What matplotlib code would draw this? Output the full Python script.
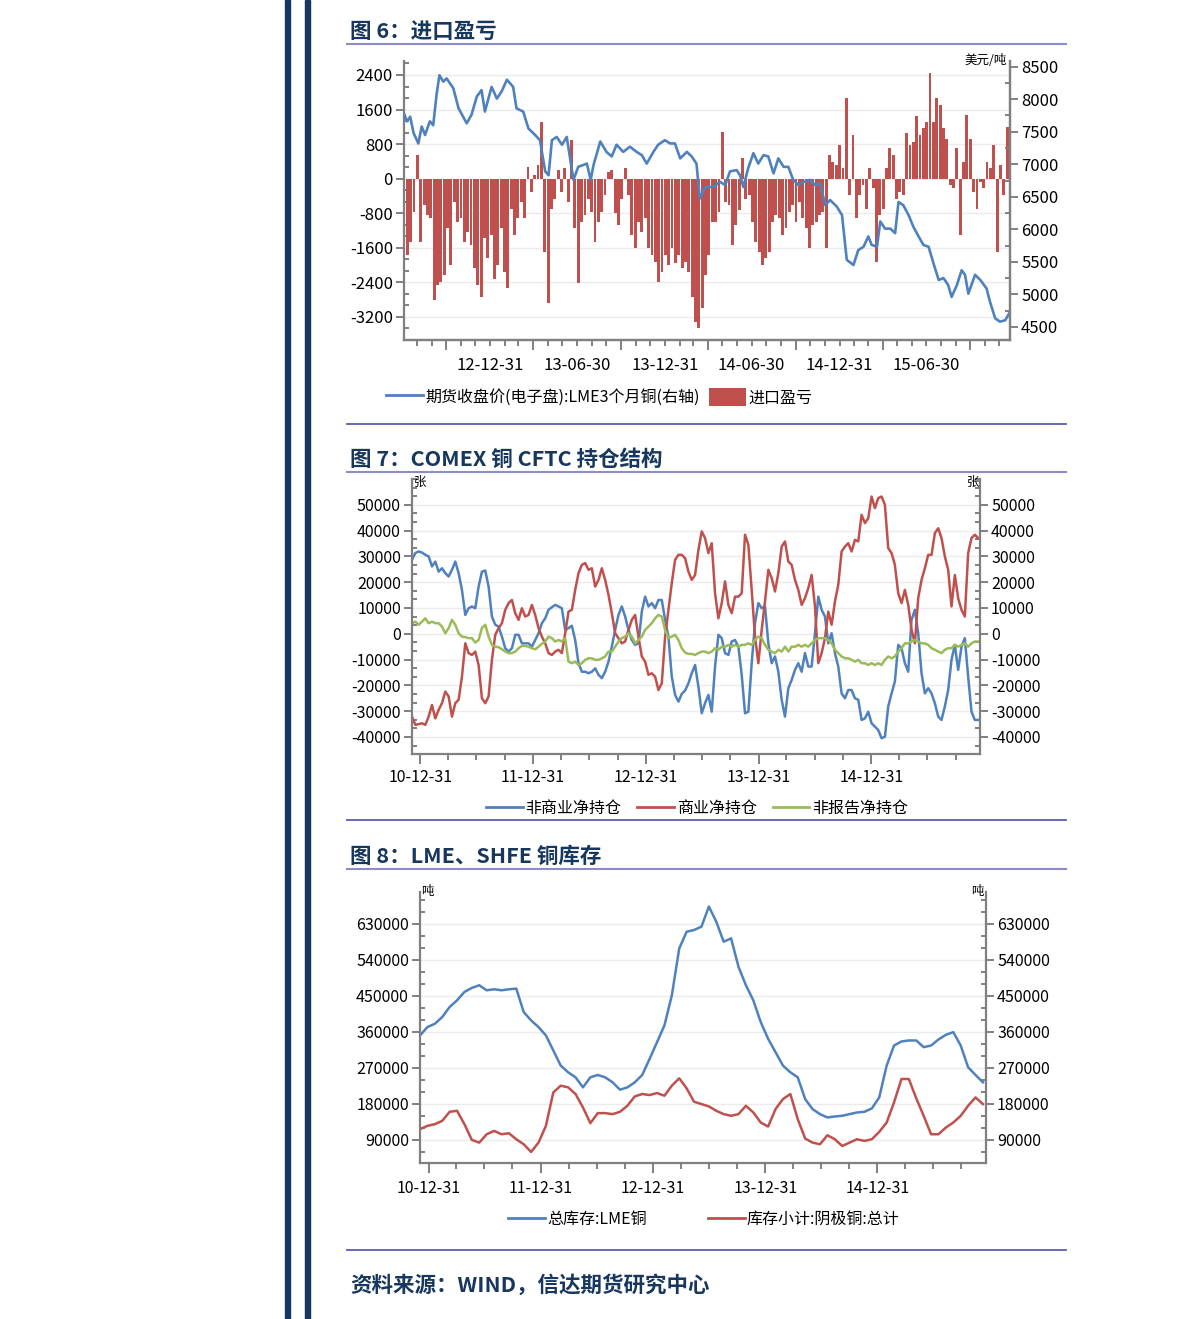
import pandas as pd
import matplotlib
matplotlib.use('Agg')
import matplotlib.pyplot as plt
from matplotlib.ticker import MultipleLocator, FixedLocator, StrMethodFormatter
from matplotlib.lines import Line2D
from matplotlib.patches import Rectangle, Patch

plt.rcParams['font.family'] = ['Noto Sans CJK SC', 'DejaVu Sans']
plt.rcParams['axes.unicode_minus'] = False

# ---- 图6 data: LME 3M copper (right axis) and import profit (bars, weekly) ----
lme_start = pd.Timestamp('2012-07-04')
lme_days = [0, 6, 13, 20, 30, 37, 44, 54, 61, 68,
            74, 82, 89, 103, 114, 131, 141, 152, 162, 169,
            183, 194, 204, 215, 228, 235, 249, 260, 274, 284,
            295, 302, 309, 319, 330, 340, 347, 354, 364, 375,
            382, 390, 396, 410, 423, 434, 444, 458, 472, 486,
            497, 507, 521, 531, 545, 556, 566, 577, 591, 601,
            611, 618, 629, 646, 660, 671, 681, 695, 702, 709,
            719, 730, 740, 751, 761, 772, 782, 793, 803, 813,
            824, 834, 848, 859, 869, 880, 890, 904, 915, 925,
            939, 949, 960, 970, 977, 988, 995, 1005, 1016, 1026,
            1033, 1043, 1054, 1064, 1075, 1085, 1096, 1106, 1117, 1127,
            1137, 1144, 1155, 1165, 1172, 1179, 1193, 1204, 1217, 1224,
            1235, 1245, 1256, 1266]
lme_price = [7780, 7660, 7730, 7480, 7320, 7580, 7450, 7660, 7600, 8070,
             8370, 8270, 8320, 8170, 7860, 7630, 7760, 8040, 8140, 7810,
             8190, 8010, 8120, 8300, 8190, 7860, 7810, 7550, 7450, 7370,
             6890, 6830, 7370, 7420, 7300, 7420, 7090, 6760, 6960, 6990,
             7010, 6760, 6990, 7350, 7190, 7120, 7300, 7190, 7270, 7190,
             7140, 7010, 7190, 7300, 7370, 7320, 7320, 7090, 7190, 7120,
             7010, 6470, 6650, 6650, 6730, 6680, 6890, 6910, 6830, 6650,
             6940, 7170, 7010, 7140, 7120, 6860, 7090, 6960, 6960, 6760,
             6680, 6730, 6760, 6680, 6710, 6370, 6450, 6350, 6220, 5530,
             5450, 5680, 5730, 5890, 5760, 5730, 6120, 6010, 6010, 5940,
             6420, 6370, 6220, 6040, 5890, 5760, 5730, 5480, 5220, 5250,
             5140, 4960, 5140, 5370, 5300, 5010, 5300, 5220, 5090, 4890,
             4630, 4580, 4600, 4730]
import_profit = [-1070, -1770, -1460, -760, 550, -1460, -610, -840, -920, -2810,
                 -2460, -2380, -2230, -1150, -2000, -530, -1000, -920, -1460, -1230,
                 -1530, -2070, -2460, -2730, -1380, -1840, -1300, -2310, -2000, -1150,
                 -2150, -2540, -690, -1300, -920, -530, -920, 280, -300, 90,
                 320, 1320, -1690, -2880, -690, -460, 200, -300, 240, -530,
                 900, -1150, -2420, -1000, -840, -460, -760, -1460, -1000, -760,
                 -380, 160, 200, -800, -1070, -460, 240, -380, -1300, -1610,
                 -1000, -1230, -920, -1610, -1770, -1920, -2380, -2150, -1770, -2000,
                 -1610, -1960, -1770, -2070, -1920, -2150, -2730, -3310, -3460, -3000,
                 -2230, -1770,
                 -1000, -1000, -760, 1090, -530, -610, -1530, -1070, -730, 470,
                 -460, -380, -1000, -1460, -1690, -2000, -1840, -1690, -1000, -840,
                 -920, -1300, -1150, -760, -610, -1000, -530, -920, -1150, -1610,
                 -1070, -1000, -840, -760, -1610, 550, 390, 320, 780, 240,
                 1860, -380, 1010, -920, -380, -150, -690, 240, -220, -1920,
                 -840, -690, 240, 700, 550, -460, -300, -380, 1050, 780,
                 860, 1440, 1010, 1170, 1320, 2440, 1320, 1860, 1710, 1170,
                 930, -150, -220, 700, -1300, 390, 1470, 930, -300, -690,
                 -70, -220, 390, 240, 780, -1690, 320, -380, 1200, -460]
c1_ticks = ['12-12-31', '13-06-30', '13-12-31', '14-06-30', '14-12-31', '15-06-30']

# ---- 图7 data: COMEX copper CFTC net positions ----
nc_net = [28700, 31300, 31900, 31500, 30600, 30000, 26100, 28000, 24100, 25400,
          23500, 22200, 24800, 28000, 23500, 17000, 7300, 9900, 10600, 9900,
          18300, 24100, 24500, 18300, 6700, 3500, 2800, -1100, -5600, -6900,
          -5600, -400, -400, -3700, -3700, -3700, -5000, -2400, 200, 4100,
          6000, 9300, 10300, 11200, 10600, 9900, 1500, 2200, 3100, -2400,
          -11400, -14700, -14700, -15300, -14700, -13400, -15900, -17200, -14700, -10800,
          -5000, 1500, 7300, 10600, 6700, 1500, -2400, -4300, -3700, 8600,
          14400, 10600, 11900, 9900, 13100, 13100, 5400, -1100, -16600, -23700,
          -26300, -23300, -22000, -19200, -15300, -12100,
          -20500, -30800, -26900, -23700, -30200, -12700, -400, -1700, -7500, -8200,
          -3000, -2400, -5000, -15900, -30800, -30200, -11400, 4100, 11900, 9900,
          10600, -3700, -11400, -8800, -14700, -25600, -32100, -21100, -17900, -14000,
          -11400, -14700, -7500, -12700, -12700, 200, 14400, 9300, 6700, -3700,
          200, -7500, -12700, -23100, -25000, -21800, -21800, -25000, -25600, -33400,
          -32800, -30200, -34700, -36000, -37300, -40500, -39900, -28200, -23100, -18500,
          -4300, -5600, -11400, -14700, 5400, 9300, 200, -15300, -23100, -21100,
          -23100, -26900, -32100, -33400, -28200, -21800, -10100, -4300, -14000, -5000,
          -1700, -16600, -30200, -33400, -33400]
c_net = [-32100, -35300, -35000, -34700, -35300, -32100, -27600, -32800, -29500, -26900,
         -22400, -24300, -32100, -26900, -25600, -16600, -3700, -7500, -8200, -6900,
         -12100, -25000, -26900, -24300, -10100, -400, 2200, 4100, 9300, 11900,
         13100, 8000, 5400, 9900, 6700, 7300, 11200, 7300, 2200, -1100,
         -3700, -7500, -8200, -6900, -6200, -7500, 200, 8600, 9300, 17000,
         23500, 26700, 27400, 24800, 25400, 18300, 20900, 25400, 20900, 15100,
         8000, 200, -1700, -3700, -3000, 1500, 5400, 7300, -1100, -8800,
         -10800, -15900, -15300, -16600, -21800, -19200, -1100, 9300, 19600, 28700,
         30600, 30600, 29300, 24100, 20900, 22800,
         32500, 39700, 37100, 31300, 35100, 15700, 6000, 11900, 20300, 11200,
         8000, 14400, 14400, 15700, 38400, 34500, 17000, -1100, -11400, 1500,
         12500, 24800, 21600, 16400, 23500, 33800, 35800, 28000, 26700, 20900,
         17000, 11200, 13800, 17700, 22800, 10600, -11400, -7500, -1700, 8600,
         3500, 12500, 19000, 31900, 33800, 35100, 31900, 36400, 35800, 46100,
         42900, 44800, 53200, 48700, 52600, 53200, 50000, 33200, 31300, 26700,
         15700, 11900, 17000, 11200, 1500, -3700, 13800, 20900, 25400, 30600,
         30600, 39000, 40900, 37100, 30000, 24800, 10600, 22800, 13800, 9300,
         6700, 31300, 37100, 38400, 37100]
nr_net = [4100, 4700, 3500, 4700, 6000, 4100, 4700, 4100, 4100, 2800,
          200, 2200, 5400, 3500, 200, -1100, -1300, -1700, -1700, -3400,
          -2400, 2200, 3500, -1100, -4300, -5000, -5200, -6000, -6900, -7500,
          -7500, -6900, -5600, -4700, -4700, -5000, -5600, -6000, -5000, -3900,
          -3000, -1100, -1700, -3000, -2400, -3000, -1700, -10800, -11400, -10800,
          -12100, -11400, -10100, -9500, -9500, -10100, -10100, -9500, -8800, -6900,
          -6900, -5000, -3000, -1700, -1100, 200, -1100, -3700, -2400, -1100,
          1500, 2800, 4100, 6000, 7300, 6700, 1500, -1700, -1100, -400,
          -2400, -5600, -7300, -7800, -7800, -8200,
          -7500, -6900, -6900, -7500, -6900, -5600, -6200, -5000, -5000, -4300,
          -5000, -4300, -5000, -4300, -4300, -3700, -4300, -2400, -1100, -1700,
          -4300, -6200, -6900, -7500, -6200, -6900, -5000, -6900, -5000, -5000,
          -4300, -5000, -4300, -5000, -3700, -2400, -1700, -1700, -1700, -2400,
          -3700, -6200, -7500, -8800, -9500, -9500, -10100, -10800, -10100, -11400,
          -11400, -12100, -11400, -12100, -11400, -12100, -10100, -8800, -9500, -8800,
          -6900, -5600, -3700, -3700, -3000, -2400, -3000, -3700, -3700, -4300,
          -5600, -6200, -6900, -7500, -6200, -5600, -5600, -4300, -5000, -4300,
          -3700, -5000, -3700, -3000, -3000]

# ---- 图8 data: LME and SHFE copper stocks (tonnes) ----
lme_stock = [351400, 372300, 380600, 397400, 422500, 439200, 460200, 470200, 476900, 464300,
             466800, 464300, 466800, 468500, 409900, 389000, 372300, 351400, 313700, 276000,
             259300, 246700, 221600, 246700, 252600, 246700, 234200, 215800, 221600, 234200,
             252600, 292800, 334600, 376500, 451800, 568900, 610800, 615000, 623400, 673600,
             635900, 585700, 594100, 522900, 476900, 439200, 384800, 343000, 309500, 276000,
             259300, 246700, 192300, 167200, 154700, 146300, 148800, 150500, 154700, 158800,
             160500, 168900, 196500, 276000, 326200, 336300, 338800, 338800, 322100, 326200,
             341300, 353000, 359700, 326200, 271800, 252600, 234200]
shfe_stock = [117000, 125400, 129500, 137900, 160500, 163000, 129500, 90200, 83500, 104400,
              112800, 104400, 106900, 91900, 79300, 60100, 83500, 125400, 209100, 225800,
              221600, 204900, 171400, 132100, 157200, 157200, 154700, 160500, 175600, 199000,
              204900, 202400, 207400, 200700, 225800, 244200, 219100, 185600, 179800, 173900,
              163000, 154700, 150500, 154700, 175600, 158800, 133700, 123700, 167200, 192300,
              204900, 142100, 93600, 83500, 79300, 101900, 91900, 75100, 83500, 91900,
              87700, 91900, 110300, 133700, 184000, 242500, 242500, 194000, 150500, 104400,
              104400, 121200, 133700, 150500, 175600, 196500, 179800]
year_ticks = ['10-12-31', '11-12-31', '12-12-31', '13-12-31', '14-12-31']

NAVY = '#17375E'
BLUE = '#4F81BD'
RED = '#C0504D'
GREEN = '#9BBB59'
AXC = '#808080'
GRID = '#EBEBEB'
W, H = 1191, 1319

fig = plt.figure(figsize=(W / 100, H / 100), dpi=100)


def box(x0, y0, x1, y1):
    return [x0 / W, 1 - y1 / H, (x1 - x0) / W, (y1 - y0) / H]


def style(ax, fs=11.5):
    for s in ['left', 'right', 'bottom']:
        ax.spines[s].set_color(AXC)
        ax.spines[s].set_linewidth(1.6)
    ax.spines['top'].set_visible(False)
    ax.tick_params(axis='y', which='major', direction='out', length=6, width=1.4,
                   color=AXC, labelsize=fs, pad=2)
    ax.tick_params(axis='y', which='minor', direction='in', length=3.5, width=1.4, color=AXC)
    ax.tick_params(axis='x', which='both', direction='out', width=1.4, color=AXC)
    ax.tick_params(axis='x', which='minor', length=4)


# page decoration
for x0 in (285, 305):
    fig.add_artist(Rectangle((x0 / W, 0), 5 / W, 1, color=NAVY, transform=fig.transFigure))
for y in (44, 472, 869):
    fig.add_artist(Line2D([347 / W, 1066 / W], [1 - y / H] * 2, color='#8C8CC8', lw=1.5))
for y in (424, 820, 1250):
    fig.add_artist(Line2D([347 / W, 1066 / W], [1 - y / H] * 2, color='#5A5AB0', lw=1.3))
for y, t in [(31, '图 6：进口盈亏'), (459, '图 7：COMEX 铜 CFTC 持仓结构'),
             (856, '图 8：LME、SHFE 铜库存'), (1285, '资料来源：WIND，信达期货研究中心')]:
    fig.text(350 / W, 1 - y / H, t, fontsize=15.5, fontweight='bold', color=NAVY,
             ha='left', va='center')

# ---------------- 图6 ----------------
ax = fig.add_axes(box(404, 61, 1010, 340))
style(ax, 12)
bar_x = [lme_start + pd.Timedelta(days=7 * i) for i in range(len(import_profit))]
ax.bar(bar_x, import_profit, width=6, color=RED, linewidth=0)
ax.set_ylim(-3733, 2724)
ax.yaxis.set_major_locator(FixedLocator(range(-3200, 2401, 800)))
ax.yaxis.set_minor_locator(MultipleLocator(800 / 3))
ax.grid(axis='y', which='major', color=GRID, lw=1)
ax.set_axisbelow(True)
ax.set_xlim(lme_start, pd.Timestamp('2015-12-22'))
q_dates = pd.date_range('2012-09-30', '2015-09-30', freq=pd.offsets.QuarterEnd())
q_labels = []
for d in q_dates:
    s = d.strftime('%y-%m-%d')
    q_labels.append(s if s in c1_ticks else '')
ax.set_xticks(q_dates)
ax.set_xticklabels(q_labels, fontsize=12)
ax.set_xticks(pd.date_range('2012-07-31', '2015-11-30', freq=pd.offsets.MonthEnd()), minor=True)
ax.tick_params(axis='x', which='major', length=7, pad=5)
for tk, lab in zip(ax.xaxis.get_major_ticks(), q_labels):
    if lab:
        tk.tick1line.set_markersize(4)

ax2 = ax.twinx()
style(ax2, 12)
ax2.spines['left'].set_visible(False)
lme_x = [lme_start + pd.Timedelta(days=d) for d in lme_days]
ax2.plot(lme_x, lme_price, color=BLUE, lw=1.9)
ax2.set_ylim(4297, 8588)
ax2.yaxis.set_major_locator(MultipleLocator(500))
ax2.yaxis.set_minor_locator(MultipleLocator(250))
fig.text(1007 / W, 1 - 61 / H, '美元/吨', fontsize=9, ha='right', va='center')

fig.legend([Line2D([], [], color=BLUE, lw=2), Patch(facecolor=RED)],
           ['期货收盘价(电子盘):LME3个月铜(右轴)', '进口盈亏'],
           loc='center', bbox_to_anchor=(599 / W, 1 - 397 / H), ncol=2, frameon=False,
           fontsize=11.5, handlelength=2.3, handleheight=1.4, handletextpad=0.15,
           columnspacing=0.6)

# ---------------- 图7 ----------------
ax = fig.add_axes(box(412, 479, 980, 754))
style(ax)
x7 = pd.date_range('2010-12-04', '2015-12-12', periods=len(nc_net))
ax.plot(x7, nc_net, color=BLUE, lw=1.8)
ax.plot(pd.date_range('2010-12-04', '2015-12-12', periods=len(c_net)), c_net, color=RED, lw=1.8)
ax.plot(pd.date_range('2010-12-04', '2015-12-12', periods=len(nr_net)), nr_net, color=GREEN, lw=1.8)
ax.set_ylim(-46600, 60000)
ax.yaxis.set_major_locator(FixedLocator(range(-40000, 50001, 10000)))
ax.yaxis.set_minor_locator(MultipleLocator(10000 / 3))
ax.yaxis.set_major_formatter(StrMethodFormatter('{x:.0f}'))
ax.tick_params(axis='y', which='both', right=True, labelright=True)
ax.grid(axis='y', which='major', color=GRID, lw=1)
ax.set_axisbelow(True)
ax.set_xlim(pd.Timestamp('2010-12-04'), pd.Timestamp('2015-12-18'))
ax.set_xticks(pd.date_range('2010-12-31', '2014-12-31', freq=pd.offsets.YearEnd()))
ax.set_xticklabels(year_ticks, fontsize=11.5)
ax.set_xticks(pd.date_range('2011-03-31', '2015-09-30', freq=pd.offsets.QuarterEnd()), minor=True)
ax.tick_params(axis='x', which='major', length=7, pad=4)
fig.text(414 / W, 1 - 482 / H, '张', fontsize=9, ha='left', va='center')
fig.text(979 / W, 1 - 482 / H, '张', fontsize=9, ha='right', va='center')
fig.legend([Line2D([], [], color=c, lw=2) for c in (BLUE, RED, GREEN)],
           ['非商业净持仓', '商业净持仓', '非报告净持仓'],
           loc='center', bbox_to_anchor=(697 / W, 1 - 808 / H), ncol=3, frameon=False,
           fontsize=11.5, handlelength=2.3, handletextpad=0.15, columnspacing=1.0)

# ---------------- 图8 ----------------
ax = fig.add_axes(box(420, 892, 986, 1163))
style(ax)
x8 = pd.date_range('2010-12-03', '2015-12-10', periods=len(lme_stock))
ax.plot(x8, lme_stock, color=BLUE, lw=1.8)
ax.plot(pd.date_range('2010-12-03', '2015-12-10', periods=len(shfe_stock)), shfe_stock,
        color=RED, lw=1.8)
ax.set_ylim(32500, 710000)
ax.yaxis.set_major_locator(FixedLocator(range(90000, 630001, 90000)))
ax.yaxis.set_minor_locator(MultipleLocator(30000))
ax.yaxis.set_major_formatter(StrMethodFormatter('{x:.0f}'))
ax.tick_params(axis='y', which='both', right=True, labelright=True)
ax.grid(axis='y', which='major', color=GRID, lw=1)
ax.set_axisbelow(True)
ax.set_xlim(pd.Timestamp('2010-12-03'), pd.Timestamp('2015-12-20'))
ax.set_xticks(pd.date_range('2010-12-31', '2014-12-31', freq=pd.offsets.YearEnd()))
ax.set_xticklabels(year_ticks, fontsize=11.5)
ax.set_xticks(pd.date_range('2011-03-31', '2015-09-30', freq=pd.offsets.QuarterEnd()), minor=True)
ax.tick_params(axis='x', which='major', length=7, pad=5)
fig.text(421 / W, 1 - 892 / H, '吨', fontsize=9, ha='left', va='center')
fig.text(984 / W, 1 - 892 / H, '吨', fontsize=9, ha='right', va='center')
fig.legend([Line2D([], [], color=c, lw=2) for c in (BLUE, RED)],
           ['总库存:LME铜', '库存小计:阴极铜:总计'],
           loc='center', bbox_to_anchor=(704 / W, 1 - 1219 / H), ncol=2, frameon=False,
           fontsize=11.5, handlelength=2.3, handletextpad=0.15, columnspacing=3.8)

fig.savefig('out.png', dpi=100)
